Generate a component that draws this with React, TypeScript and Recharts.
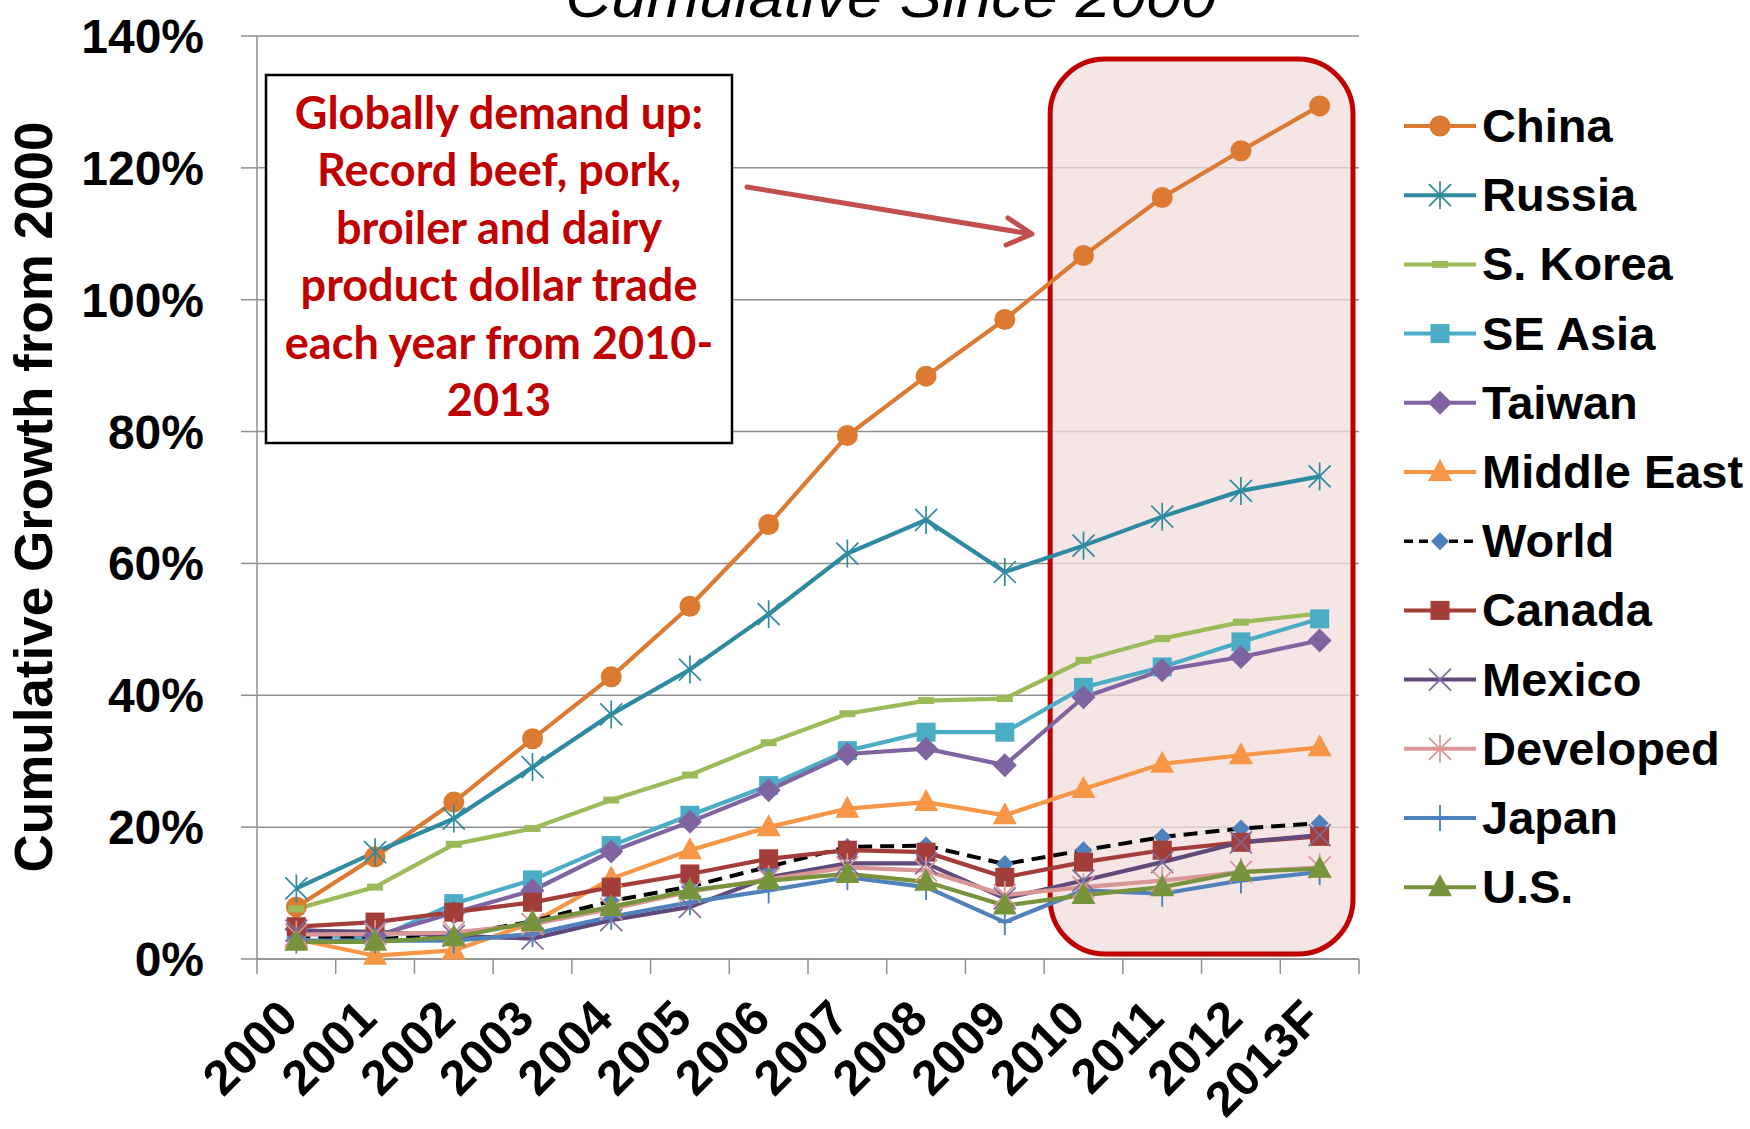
import React from "react";
import { CartesianGrid, Line, LineChart, ReferenceArea, XAxis, YAxis } from "recharts";

// values (cumulative % growth since 2000)
const years = ["2000", "2001", "2002", "2003", "2004", "2005", "2006", "2007", "2008", "2009", "2010", "2011", "2012", "2013F"];
const china = [7.9, 15.5, 23.8, 33.4, 42.8, 53.5, 65.9, 79.4, 88.4, 97.0, 106.7, 115.5, 122.6, 129.4];
const russia = [10.7, 16.2, 21.3, 29.1, 37.1, 43.9, 52.3, 61.5, 66.6, 58.7, 62.7, 67.1, 71.0, 73.2];
const sKorea = [7.6, 10.9, 17.4, 19.8, 24.1, 27.9, 32.8, 37.2, 39.2, 39.5, 45.3, 48.6, 51.1, 52.4];
const seAsia = [4.0, 3.0, 8.4, 12.0, 17.2, 21.8, 26.3, 31.6, 34.4, 34.4, 41.2, 44.3, 48.1, 51.6];
const taiwan = [4.5, 3.5, 7.0, 10.4, 16.3, 20.8, 25.6, 31.1, 31.9, 29.4, 39.7, 43.8, 45.8, 48.3];
const middleEast = [3.0, 0.5, 1.3, 5.5, 12.2, 16.5, 20.0, 22.8, 23.8, 21.8, 25.8, 29.6, 30.9, 32.1];
const world = [3.5, 3.0, 3.6, 5.7, 8.8, 11.0, 14.0, 17.0, 17.2, 14.4, 16.5, 18.5, 19.8, 20.6];
const canada = [4.9, 5.6, 7.1, 8.6, 10.9, 12.9, 15.2, 16.5, 16.2, 12.4, 14.7, 16.5, 17.7, 18.6];
const mexico = [4.3, 4.1, 3.5, 3.1, 5.9, 7.9, 12.4, 14.5, 14.5, 9.2, 11.9, 14.7, 17.7, 18.8];
const developed = [3.7, 3.8, 4.0, 5.3, 7.6, 10.2, 12.1, 13.9, 13.4, 9.7, 10.9, 11.9, 13.2, 13.9];
const japan = [2.8, 2.8, 2.8, 3.8, 6.4, 8.6, 10.4, 12.4, 10.9, 5.6, 10.4, 9.9, 11.9, 13.2];
const us = [2.6, 2.6, 3.3, 5.6, 7.9, 10.4, 11.9, 12.9, 11.7, 8.1, 9.7, 10.9, 13.2, 13.7];
const yTicks = [0, 20, 40, 60, 80, 100, 120, 140];
const annotationLines = [
  "Globally demand up:",
  "Record beef, pork,",
  "broiler and dairy",
  "product dollar trade",
  "each year from 2010-",
  "2013",
];

type MarkerKind = "circle" | "asterisk" | "dash" | "square" | "diamond" | "smallDiamond" | "triangle" | "x" | "plus";

const series: {
  key: string;
  name: string;
  values: number[];
  color: string;
  marker: MarkerKind;
  markerColor: string;
  dashed?: boolean;
}[] = [
  { key: "china", name: "China", values: china, color: "#DD7A32", marker: "circle", markerColor: "#DD7A32" },
  { key: "russia", name: "Russia", values: russia, color: "#2E8AA0", marker: "asterisk", markerColor: "#2E8AA0" },
  { key: "sKorea", name: "S. Korea", values: sKorea, color: "#9BBB59", marker: "dash", markerColor: "#9BBB59" },
  { key: "seAsia", name: "SE Asia", values: seAsia, color: "#4BACC6", marker: "square", markerColor: "#4BACC6" },
  { key: "taiwan", name: "Taiwan", values: taiwan, color: "#8064A2", marker: "diamond", markerColor: "#8064A2" },
  { key: "middleEast", name: "Middle East", values: middleEast, color: "#F79646", marker: "triangle", markerColor: "#F79646" },
  { key: "world", name: "World", values: world, color: "#000000", marker: "smallDiamond", markerColor: "#4F81BD", dashed: true },
  { key: "canada", name: "Canada", values: canada, color: "#A33D3A", marker: "square", markerColor: "#A33D3A" },
  { key: "mexico", name: "Mexico", values: mexico, color: "#604A7B", marker: "x", markerColor: "#7E6A9C" },
  { key: "developed", name: "Developed", values: developed, color: "#D99694", marker: "asterisk", markerColor: "#D99694" },
  { key: "japan", name: "Japan", values: japan, color: "#4F81BD", marker: "plus", markerColor: "#4F81BD" },
  { key: "us", name: "U.S.", values: us, color: "#77933C", marker: "triangle", markerColor: "#77933C" },
];

const rows = years.map((year, i) => {
  const row: Record<string, string | number> = { year };
  series.forEach((s) => {
    row[s.key] = s.values[i];
  });
  return row;
});

// layout
const W = 1750;
const H = 1129;
const PLOT_LEFT = 257;
const PLOT_RIGHT = 1359;
const PLOT_TOP = 36;
const PLOT_BOTTOM = 959;
const HALF_BAND = (PLOT_RIGHT - PLOT_LEFT) / years.length / 2;
const FONT = "'Liberation Sans', Arial, sans-serif";
const GRID = "#8f8f8f";

function Marker({ kind, cx, cy, color }: { kind: MarkerKind; cx: number; cy: number; color: string }) {
  switch (kind) {
    case "circle":
      return <circle cx={cx} cy={cy} r={10.5} fill={color} />;
    case "square":
      return <rect x={cx - 9.5} y={cy - 9.5} width={19} height={19} fill={color} />;
    case "diamond":
      return <polygon points={`${cx},${cy - 12} ${cx + 12},${cy} ${cx},${cy + 12} ${cx - 12},${cy}`} fill={color} />;
    case "smallDiamond":
      return <polygon points={`${cx},${cy - 9} ${cx + 9},${cy} ${cx},${cy + 9} ${cx - 9},${cy}`} fill={color} />;
    case "triangle":
      return <polygon points={`${cx},${cy - 13} ${cx + 12},${cy + 9} ${cx - 12},${cy + 9}`} fill={color} />;
    case "dash":
      return <rect x={cx - 8} y={cy - 3.5} width={16} height={7} fill={color} />;
    case "asterisk":
      return (
        <g stroke={color} strokeWidth={1.7}>
          <line x1={cx - 11} y1={cy - 11} x2={cx + 11} y2={cy + 11} />
          <line x1={cx - 11} y1={cy + 11} x2={cx + 11} y2={cy - 11} />
          <line x1={cx} y1={cy - 14} x2={cx} y2={cy + 14} />
        </g>
      );
    case "x":
      return (
        <g stroke={color} strokeWidth={1.7}>
          <line x1={cx - 11} y1={cy - 11} x2={cx + 11} y2={cy + 11} />
          <line x1={cx - 11} y1={cy + 11} x2={cx + 11} y2={cy - 11} />
        </g>
      );
    case "plus":
      return (
        <g stroke={color} strokeWidth={1.9}>
          <line x1={cx} y1={cy - 13} x2={cx} y2={cy + 13} />
          <line x1={cx - 7} y1={cy} x2={cx + 7} y2={cy} />
        </g>
      );
    default:
      return null;
  }
}

function XTick(props: any) {
  const { x, payload, index } = props;
  const ax = x + 4;
  const ay = PLOT_BOTTOM + 62;
  return (
    <g>
      <line x1={x - HALF_BAND} y1={PLOT_BOTTOM} x2={x - HALF_BAND} y2={PLOT_BOTTOM + 15} stroke={GRID} strokeWidth={1.5} />
      {index === years.length - 1 ? (
        <line x1={x + HALF_BAND} y1={PLOT_BOTTOM} x2={x + HALF_BAND} y2={PLOT_BOTTOM + 15} stroke={GRID} strokeWidth={1.5} />
      ) : null}
      <text
        x={ax}
        y={ay}
        textAnchor="end"
        transform={`rotate(-45, ${ax}, ${ay})`}
        fontFamily={FONT}
        fontWeight="bold"
        fontSize={49}
        fill="#000"
      >
        {payload.value}
      </text>
    </g>
  );
}

function YTick(props: any) {
  const { y, payload } = props;
  return (
    <text x={PLOT_LEFT - 53} y={y + 17} textAnchor="end" fontFamily={FONT} fontWeight="bold" fontSize={48} fill="#000">
      {`${payload.value}%`}
    </text>
  );
}

function Highlight(props: any) {
  const { x, y, width, height } = props;
  return (
    <rect
      x={x - HALF_BAND + 6}
      y={y}
      width={width + 2 * HALF_BAND - 12}
      height={height - 5}
      rx={55}
      ry={55}
      fill="#F2DCDB"
      fillOpacity={0.75}
      stroke="#C00000"
      strokeWidth={5}
    />
  );
}

function Overlay() {
  const legendTop = 126;
  const legendStep = 69.2;
  return (
    <svg
      width={W}
      height={H}
      style={{ position: "absolute", left: 0, top: 0, pointerEvents: "none" }}
    >
      <text
        x={891}
        y={17}
        textAnchor="middle"
        fontFamily={FONT}
        fontStyle="italic"
        fontSize={60}
        textLength={651}
        lengthAdjust="spacingAndGlyphs"
        fill="#000"
      >
        Cumulative Since 2000
      </text>
      <text
        transform="translate(52, 497) rotate(-90)"
        textAnchor="middle"
        fontFamily={FONT}
        fontWeight="bold"
        fontSize={53}
        fill="#000"
      >
        Cumulative Growth from 2000
      </text>

      {/* annotation box */}
      <rect x={266} y={75} width={466} height={368} fill="#fff" stroke="#000" strokeWidth={2.5} />
      {annotationLines.map((line, i) => (
        <text
          key={line}
          x={499}
          y={129 + i * 57.4}
          textAnchor="middle"
          fontFamily="Lato, 'Open Sans', sans-serif"
          fontWeight="bold"
          fontSize={45}
          fill="#C00000"
        >
          {line}
        </text>
      ))}
      <g stroke="#C0504D" strokeWidth={5} strokeLinecap="round" fill="none">
        <line x1={747} y1={187} x2={1031} y2={234} />
        <polyline points="1008,218 1032,234 1006,245" strokeLinejoin="round" />
      </g>

      {/* legend */}
      {series.map((s, i) => {
        const cy = legendTop + i * legendStep;
        return (
          <g key={s.key}>
            <line
              x1={1404}
              y1={cy}
              x2={1476}
              y2={cy}
              stroke={s.color}
              strokeWidth={s.dashed ? 3.5 : 4}
              strokeDasharray={s.dashed ? "9 6" : undefined}
            />
            <Marker kind={s.marker} cx={1440} cy={cy} color={s.markerColor} />
            <text x={1482} y={cy + 16} fontFamily={FONT} fontWeight="bold" fontSize={47} fill="#000">
              {s.name}
            </text>
          </g>
        );
      })}
    </svg>
  );
}

export default function App() {
  return (
    <div style={{ position: "absolute", left: 0, top: 0, width: W, height: H, background: "#fff" }}>
      <LineChart
        width={W}
        height={H}
        data={rows}
        margin={{ top: PLOT_TOP, right: W - PLOT_RIGHT, bottom: 20, left: 57 }}
      >
        <ReferenceArea x1="2010" x2="2013F" y1={0} y2={136.5} shape={Highlight} ifOverflow="visible" />
        <CartesianGrid horizontal vertical={false} stroke={GRID} strokeWidth={1.5} />
        <XAxis
          dataKey="year"
          interval={0}
          height={H - PLOT_BOTTOM - 20}
          padding={{ left: HALF_BAND, right: HALF_BAND }}
          axisLine={{ stroke: GRID, strokeWidth: 1.5 }}
          tickLine={false}
          tick={<XTick />}
        />
        <YAxis
          width={PLOT_LEFT - 57}
          domain={[0, 140]}
          ticks={yTicks}
          interval={0}
          tickSize={16}
          axisLine={{ stroke: GRID, strokeWidth: 1.5 }}
          tickLine={{ stroke: GRID, strokeWidth: 1.5 }}
          tick={<YTick />}
        />
        {series.map((s) => (
          <Line
            key={s.key}
            dataKey={s.key}
            name={s.name}
            type="linear"
            stroke={s.color}
            strokeWidth={s.dashed ? 4 : 4.2}
            strokeDasharray={s.dashed ? "14 8" : undefined}
            isAnimationActive={false}
            activeDot={false}
            dot={(p: any) =>
              p.cx == null || p.cy == null ? (
                <g key={`${s.key}-${p.index}`} />
              ) : (
                <Marker key={`${s.key}-${p.index}`} kind={s.marker} cx={p.cx} cy={p.cy} color={s.markerColor} />
              )
            }
          />
        ))}
      </LineChart>
      <Overlay />
    </div>
  );
}
